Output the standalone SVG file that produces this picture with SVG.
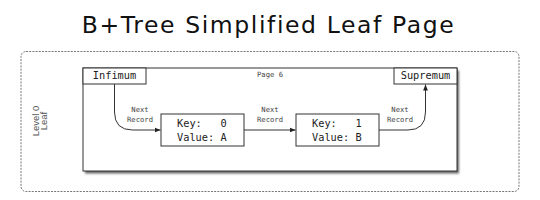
<svg xmlns="http://www.w3.org/2000/svg" width="540" height="200" viewBox="0 0 540 200">
<style>
  .title{font-family:"DejaVu Sans","Liberation Sans",sans-serif;font-size:23.5px;fill:#111;letter-spacing:1.6px}
  .box{fill:#fff;stroke:#333;stroke-width:1}
  .mono{font-family:"DejaVu Sans Mono","Liberation Mono",monospace;fill:#222}
  .lbl{font-family:"DejaVu Sans Mono","Liberation Mono",monospace;font-size:7.2px;fill:#444;text-anchor:middle}
  .conn{fill:none;stroke:#333;stroke-width:1}
  .side{font-family:"Liberation Sans","DejaVu Sans",sans-serif;font-size:9.5px;fill:#555;text-anchor:middle}
</style>
<defs>
  <marker id="arr" viewBox="0 0 10 10" refX="10" refY="5" markerWidth="6" markerHeight="6" markerUnits="userSpaceOnUse" orient="auto">
    <path d="M0,1 L10,5 L0,9 z" fill="#222"/>
  </marker>
  <filter id="sh" x="-10%" y="-10%" width="120%" height="130%">
    <feGaussianBlur stdDeviation="1.2"/>
  </filter>
</defs>
<rect width="540" height="200" fill="#fff"/>
<text class="title" x="268.5" y="33" text-anchor="middle">B+Tree Simplified Leaf Page</text>

<g id="level">
  <rect x="21" y="51.5" width="498" height="140" rx="5" fill="none" stroke="#777" stroke-width="1" stroke-dasharray="2,1.2"/>
  <g transform="translate(39,121) rotate(-90)">
    <text class="side" x="0" y="-0.5">Level 0</text>
    <text class="side" x="0" y="8">Leaf</text>
  </g>
</g>

<g id="page">
  <rect x="85" y="70.5" width="374" height="103" fill="#666" filter="url(#sh)"/>
  <rect class="box" x="83" y="68" width="374" height="103"/>
  <text class="lbl" x="270" y="76.5">Page 6</text>
</g>

<g id="infimum">
  <rect class="box" x="83" y="68" width="63" height="16"/>
  <text class="mono" x="114.5" y="79" font-size="10.3" text-anchor="middle">Infimum</text>
</g>
<g id="supremum">
  <rect class="box" x="394" y="68" width="63" height="16"/>
  <text class="mono" x="425.5" y="79" font-size="10.3" text-anchor="middle">Supremum</text>
</g>

<g id="record0">
  <rect class="box" x="161" y="114" width="83" height="32"/>
  <text class="mono" x="177" y="126.5" font-size="10.3" xml:space="preserve">Key:   0</text>
  <text class="mono" x="177" y="140.5" font-size="10.3" xml:space="preserve">Value: A</text>
</g>
<g id="record1">
  <rect class="box" x="296" y="114" width="83" height="32"/>
  <text class="mono" x="312" y="126.5" font-size="10.3" xml:space="preserve">Key:   1</text>
  <text class="mono" x="312" y="140.5" font-size="10.3" xml:space="preserve">Value: B</text>
</g>

<g id="connectors">
  <path class="conn" d="M114.5,84 L114.5,112 Q114.5,130 132.5,130 L160.5,130" marker-end="url(#arr)"/>
  <path class="conn" d="M244,130 L295.5,130" marker-end="url(#arr)"/>
  <path class="conn" d="M379,130 L408,130 Q425.5,130 425.5,112 L425.5,84.5" marker-end="url(#arr)"/>
  <text class="lbl" x="140" y="112.3">Next</text>
  <text class="lbl" x="140" y="122">Record</text>
  <text class="lbl" x="270" y="112.3">Next</text>
  <text class="lbl" x="270" y="122">Record</text>
  <text class="lbl" x="400" y="112.3">Next</text>
  <text class="lbl" x="400" y="122">Record</text>
</g>
</svg>
